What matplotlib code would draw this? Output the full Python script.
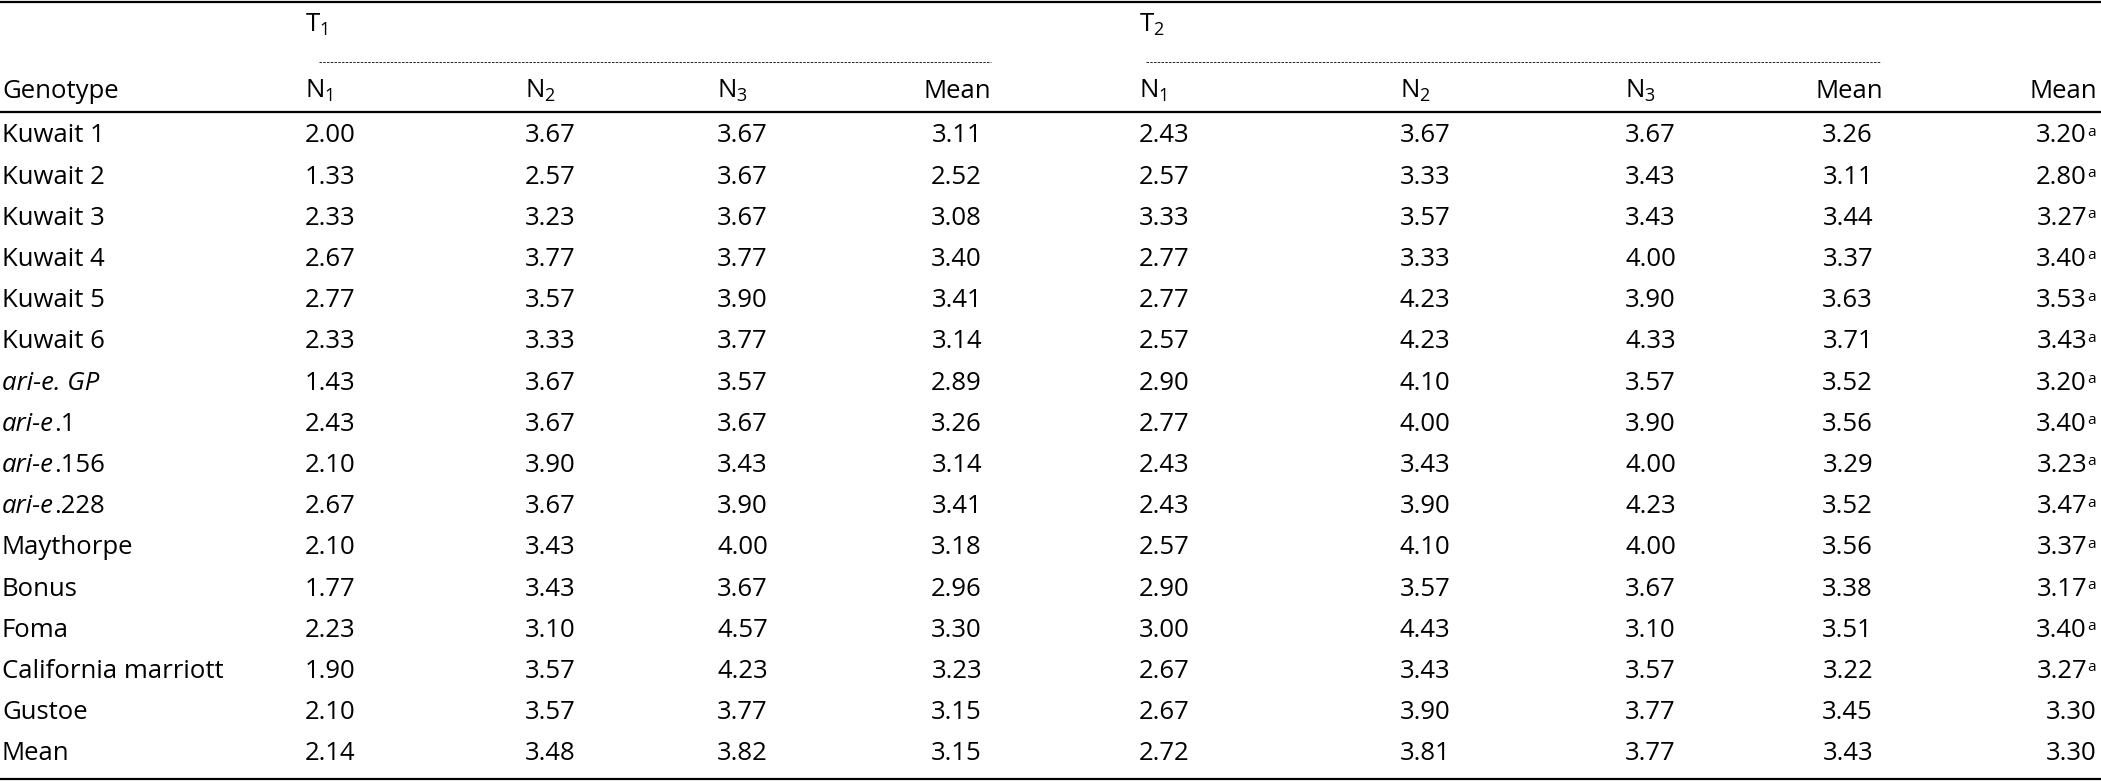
import matplotlib
matplotlib.use("Agg")
import matplotlib.pyplot as plt
from matplotlib import font_manager

genotypes = ["Kuwait 1", "Kuwait 2", "Kuwait 3", "Kuwait 4", "Kuwait 5", "Kuwait 6",
             "ari-e. GP", "ari-e.1", "ari-e.156", "ari-e.228", "Maythorpe", "Bonus",
             "Foma", "California marriott", "Gustoe", "Mean"]
t1_n1 = ["2.00", "1.33", "2.33", "2.67", "2.77", "2.33", "1.43", "2.43", "2.10", "2.67", "2.10", "1.77", "2.23", "1.90", "2.10", "2.14"]
t1_n2 = ["3.67", "2.57", "3.23", "3.77", "3.57", "3.33", "3.67", "3.67", "3.90", "3.67", "3.43", "3.43", "3.10", "3.57", "3.57", "3.48"]
t1_n3 = ["3.67", "3.67", "3.67", "3.77", "3.90", "3.77", "3.57", "3.67", "3.43", "3.90", "4.00", "3.67", "4.57", "4.23", "3.77", "3.82"]
t1_mean = ["3.11", "2.52", "3.08", "3.40", "3.41", "3.14", "2.89", "3.26", "3.14", "3.41", "3.18", "2.96", "3.30", "3.23", "3.15", "3.15"]
t2_n1 = ["2.43", "2.57", "3.33", "2.77", "2.77", "2.57", "2.90", "2.77", "2.43", "2.43", "2.57", "2.90", "3.00", "2.67", "2.67", "2.72"]
t2_n2 = ["3.67", "3.33", "3.57", "3.33", "4.23", "4.23", "4.10", "4.00", "3.43", "3.90", "4.10", "3.57", "4.43", "3.43", "3.90", "3.81"]
t2_n3 = ["3.67", "3.43", "3.43", "4.00", "3.90", "4.33", "3.57", "3.90", "4.00", "4.23", "4.00", "3.67", "3.10", "3.57", "3.77", "3.77"]
t2_mean = ["3.26", "3.11", "3.44", "3.37", "3.63", "3.71", "3.52", "3.56", "3.29", "3.52", "3.56", "3.38", "3.51", "3.22", "3.45", "3.43"]
overall_mean = ["3.20", "2.80", "3.27", "3.40", "3.53", "3.43", "3.20", "3.40", "3.23", "3.47", "3.37", "3.17", "3.40", "3.27", "3.30", "3.30"]
overall_sup = ["a"] * 14 + ["", ""]

names = {f.name for f in font_manager.fontManager.ttflist}
fam = "Liberation Sans Narrow" if "Liberation Sans Narrow" in names else "Open Sans"
plt.rcParams["font.family"] = [fam, "DejaVu Sans"]
plt.rcParams["mathtext.fontset"] = "custom"
plt.rcParams["mathtext.rm"] = fam
FS = 18.5

fig = plt.figure(figsize=(21.01, 7.81), dpi=100)
ax = fig.add_axes([0, 0, 1, 1])
ax.set_xlim(0, 2101)
ax.set_ylim(781, 0)
ax.axis("off")

def t(x, y, s, ha="left", **kw):
    return ax.text(x, y, s, ha=ha, va="center", fontsize=FS, **kw)

# rules
ax.plot([0, 2101], [2, 2], color="k", lw=1.6)
ax.plot([0, 2101], [112, 112], color="k", lw=1.6)
ax.plot([0, 2101], [779, 779], color="k", lw=1.6)
ax.plot([319, 991], [62, 62], color="k", lw=0.6, ls=(0, (3, 1.5)))
ax.plot([1146, 1880], [62, 62], color="k", lw=0.6, ls=(0, (3, 1.5)))

# headers
t(305, 25, r"T$_1$")
t(1139, 25, r"T$_2$")
hy = 91
t(2, hy, "Genotype")
for x, s in [(305, r"N$_1$"), (525, r"N$_2$"), (717, r"N$_3$"),
             (1139, r"N$_1$"), (1400, r"N$_2$"), (1625, r"N$_3$")]:
    t(x, hy, s)
t(991, hy, "Mean", ha="right")
t(1883, hy, "Mean", ha="right")
t(2097, hy, "Mean", ha="right")

y0, dy = 136, 41.2
for i, g in enumerate(genotypes):
    y = y0 + i * dy
    if g.startswith("ari-e"):
        if g == "ari-e. GP":
            t(2, y, g, style="italic")
        else:
            a = t(2, y, "ari-e", style="italic")
            ax.annotate(g[5:], xy=(1, 0.5), xycoords=a, va="center", ha="left", fontsize=FS)
    else:
        t(2, y, g)
    t(305, y, t1_n1[i]); t(525, y, t1_n2[i]); t(717, y, t1_n3[i])
    t(982, y, t1_mean[i], ha="right")
    t(1139, y, t2_n1[i]); t(1400, y, t2_n2[i]); t(1625, y, t2_n3[i])
    t(1873, y, t2_mean[i], ha="right")
    if overall_sup[i]:
        m = t(2087, y, overall_mean[i], ha="right")
        ax.annotate(overall_sup[i], xy=(1, 0.95), xycoords=m, va="top", ha="left", fontsize=FS * 0.6)
    else:
        t(2097, y, overall_mean[i], ha="right")

fig.savefig("out.png", dpi=100)
